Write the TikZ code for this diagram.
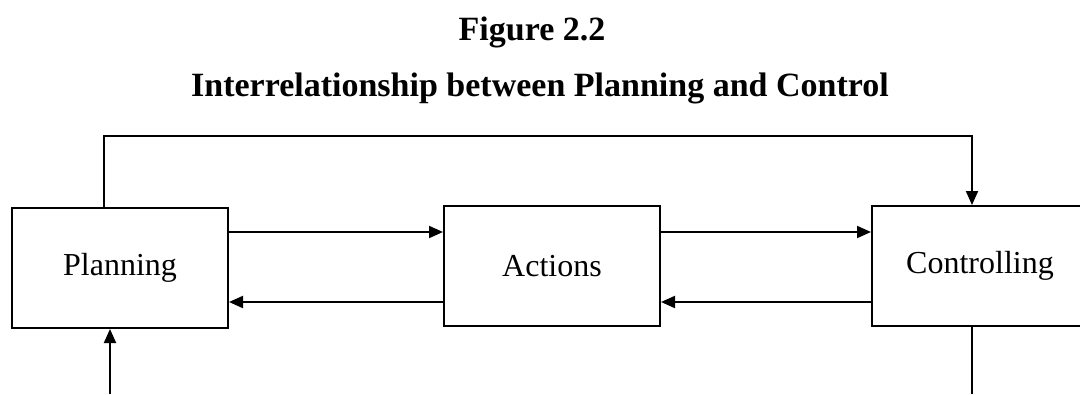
\documentclass[tikz,border=0pt]{standalone}
\usepackage{fontspec}
\setmainfont{Liberation Serif}
\usepackage{tikz}
\usetikzlibrary{arrows.meta}

\begin{document}
\begin{tikzpicture}[x=1pt,y=-1pt]
\useasboundingbox (0,0) rectangle (1080,394);

\node[font=\fontsize{34}{40}\selectfont\bfseries,anchor=base] (FigNum) at (532,40) {Figure 2.2};
\node[font=\fontsize{34}{40}\selectfont\bfseries,anchor=base] (FigTitle) at (540,96) {Interrelationship between Planning and Control};

\begin{scope}[every node/.style={rectangle,draw,line width=2pt,minimum width=216pt,minimum height=120pt,font=\fontsize{32}{38}\selectfont}]
    \node (Planning) at (120,268) {Planning};
    \node (Actions) at (552,266) {Actions};
    \node (Controlling) at (980,266) {Controlling};
    \end{scope}

\coordinate (LoopLeft) at (104,136);
\coordinate (LoopRight) at (972,136);
\coordinate (FeedIn) at (110,394);
\coordinate (FeedOut) at (972,394);

\begin{scope}[>={Triangle[length=14pt,width=12pt]},
              every path/.style={draw=black,line width=2pt}]
    \draw [->] (Planning.north -| LoopLeft) |- (LoopRight) -- (Controlling.north -| LoopRight);
    \draw [->] (Planning.east |- 0,232) -- (Actions.west |- 0,232);
    \draw [->] (Actions.west |- 0,302) -- (Planning.east |- 0,302);
    \draw [->] (Actions.east |- 0,232) -- (Controlling.west |- 0,232);
    \draw [->] (Controlling.west |- 0,302) -- (Actions.east |- 0,302);
    \draw [->] (FeedIn) -- (Planning.south -| FeedIn);
    \draw (Controlling.south -| FeedOut) -- (FeedOut);
    \end{scope}

\end{tikzpicture}
\end{document}
